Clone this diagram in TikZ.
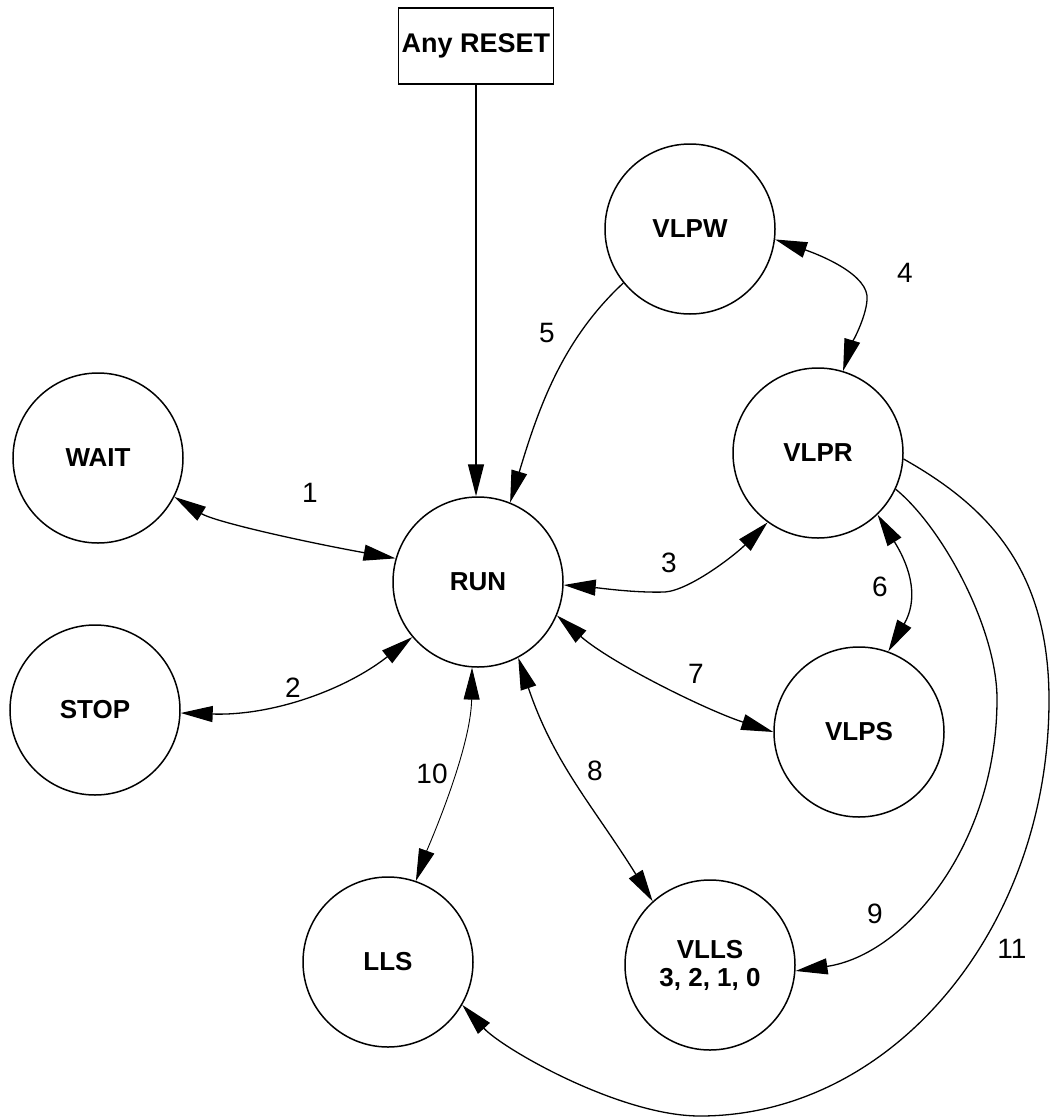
\documentclass[tikz,border=0pt]{standalone}
\usepackage{fontspec}
\setmainfont{Liberation Sans}
\usetikzlibrary{arrows.meta}
\begin{document}
\begin{tikzpicture}[x=1pt,y=-1pt,
  >={Triangle[length=32pt,width=16pt]},
  state/.style={circle, draw, line width=1.5pt, minimum size=170pt, inner sep=0pt,
    font=\fontsize{26}{28}\selectfont\bfseries, align=center},
  boxnode/.style={draw, line width=1.4pt, minimum width=155pt, minimum height=76pt, inner sep=0pt,
    font=\fontsize{27}{29}\selectfont\bfseries},
  conn/.style={line width=1.3pt},
  thinconn/.style={line width=0.9pt},
  lbl/.style={font=\fontsize{28}{30}\selectfont, inner sep=0pt}]
\useasboundingbox (0,0) rectangle (1050,1119);

% states
\node[boxnode] (reset) at (476,46) {Any RESET};
\node[state] (WAIT) at (98,458) {WAIT};
\node[state] (RUN) at (478,582) {RUN};
\node[state] (STOP) at (95,710) {STOP};
\node[state] (VLPW) at (690,229) {VLPW};
\node[state] (VLPR) at (818,453) {VLPR};
\node[state] (VLPS) at (859,732) {VLPS};
\node[state] (LLS) at (388,962) {LLS};
\node[state] (VLLS) at (710,965) {VLLS\\3, 2, 1, 0};

% connectors
\draw[conn,->] (reset.south) -- (reset.south |- RUN.north);
\draw[conn,<->] (WAIT.-27.5) .. controls (215,522) and (305,542) .. (RUN.164);
\draw[conn,<->] (STOP.-2) .. controls (272,716) and (345,690) .. (RUN.220);
\draw[conn,<->] (RUN.-2) .. controls (600,588) and (635,593) .. (665,592)
   .. controls (690,590) and (735,555) .. (VLPR.234.7);
\draw[conn,<->] (VLPW.-7.4) .. controls (820,255) and (870,275) .. (867,300)
   .. controls (866,318) and (850,348) .. (VLPR.73.2);
\draw[conn,->] (VLPW.219) .. controls (563,339) and (539,406) .. (RUN.68.2);
\draw[conn,<->] (VLPR.-46.4) .. controls (912,570) and (918,600) .. (VLPS.70.5);
\draw[conn,<->] (RUN.-23.6) .. controls (611,663) and (706,710) .. (VLPS.180);
\draw[conn,<->] (RUN.-62) .. controls (554,764) and (594,807) .. (VLLS.132.2);
\draw[conn,->] (VLPR.-25) .. controls (943,528) and (997,629) .. (997,699)
   .. controls (997,845) and (905,955) .. (VLLS.-4);
\draw[thinconn,<->] (RUN.-94) .. controls (471,750) and (427,850) .. (LLS.71.6);
\draw[conn,->] (VLPR.-4) .. controls (985,505) and (1049,567) .. (1049,700)
   .. controls (1049,929) and (892,1116) .. (700,1116)
   .. controls (620,1116) and (503,1049) .. (LLS.-30.7);

% labels
\node[lbl] (l1) at (310,493) {1};
\node[lbl] (l2) at (293,688) {2};
\node[lbl] (l3) at (669,563) {3};
\node[lbl] (l4) at (905,273) {4};
\node[lbl] (l5) at (547,333) {5};
\node[lbl] (l6) at (880,587) {6};
\node[lbl] (l7) at (696,674) {7};
\node[lbl] (l8) at (595,771) {8};
\node[lbl] (l9) at (875,914) {9};
\node[lbl] (l10) at (432,774) {10};
\node[lbl] (l11) at (1012,949) {11};
\end{tikzpicture}
\end{document}
